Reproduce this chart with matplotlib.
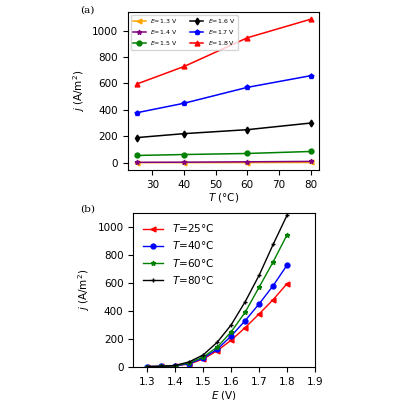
import matplotlib
matplotlib.use("Agg")
import matplotlib.pyplot as plt
import numpy as np

temps = [25, 40, 60, 80]
volts = [1.3, 1.4, 1.5, 1.6, 1.7, 1.8]
j_vs_T = {
    1.3: [1, 1, 1, 2],
    1.4: [3, 4, 7, 10],
    1.5: [55, 62, 70, 85],
    1.6: [190, 220, 250, 300],
    1.7: [378, 450, 570, 658],
    1.8: [595, 728, 945, 1085],
}
E = [1.3, 1.35, 1.4, 1.45, 1.5, 1.55, 1.6, 1.65, 1.7, 1.75, 1.8]
j_vs_E = {
    25: [2, 3, 8, 20, 55, 115, 190, 280, 378, 480, 595],
    40: [2, 3, 8, 22, 62, 125, 220, 330, 450, 580, 728],
    60: [2, 3, 9, 28, 70, 140, 250, 390, 570, 750, 945],
    80: [2, 3, 10, 35, 85, 175, 300, 465, 655, 875, 1085],
}

fig = plt.figure(figsize=(4, 4), dpi=100)

ax1 = fig.add_axes([0.32, 0.575, 0.478, 0.395])
styles_a = {1.3: ('orange', '<'), 1.4: ('purple', '*'), 1.5: ('green', 'o'),
            1.6: ('black', 'd'), 1.7: ('blue', 'p'), 1.8: ('red', '^')}
for v in volts:
    c, m = styles_a[v]
    ax1.plot(temps, j_vs_T[v], color=c, marker=m, ms=3.5, lw=1.1, label=f"$E$={v} V")
ax1.set_xlabel("$T$ (°C)", fontsize=7.5, labelpad=1)
ax1.set_ylabel("$j$ (A/m$^2$)", fontsize=7.5)
ax1.set_xticks([30, 40, 50, 60, 70, 80])
ax1.set_yticks([0, 200, 400, 600, 800, 1000])
ax1.set_ylim(-55, 1140)
ax1.tick_params(labelsize=7.5)
ax1.legend(ncol=2, fontsize=4.5, loc='upper left', frameon=True, borderaxespad=0.4)

ax2 = fig.add_axes([0.333, 0.083, 0.455, 0.385])
styles_b = {25: ('red', '<'), 40: ('blue', 'o'), 60: ('green', '*'), 80: ('black', '+')}
for t in temps:
    c, m = styles_b[t]
    ax2.plot(E, j_vs_E[t], color=c, marker=m, ms=3.5, lw=1, label=f"$T$={t}°C")
ax2.set_xlabel("$E$ (V)", fontsize=7.5, labelpad=2)
ax2.set_ylabel("$j$ (A/m$^2$)", fontsize=7.5)
ax2.set_xlim(1.25, 1.9)
ax2.set_ylim(0, 1100)
ax2.set_xticks([1.3, 1.4, 1.5, 1.6, 1.7, 1.8, 1.9])
ax2.set_yticks([0, 200, 400, 600, 800, 1000])
ax2.tick_params(labelsize=7.5)
ax2.legend(fontsize=7.5, loc='upper left', frameon=False)

fig.text(0.2, 0.975, "(a)", family='serif', fontsize=7.5, va='center')
fig.text(0.2, 0.477, "(b)", family='serif', fontsize=7.5, va='center')

fig.savefig("out.png", dpi=100)
